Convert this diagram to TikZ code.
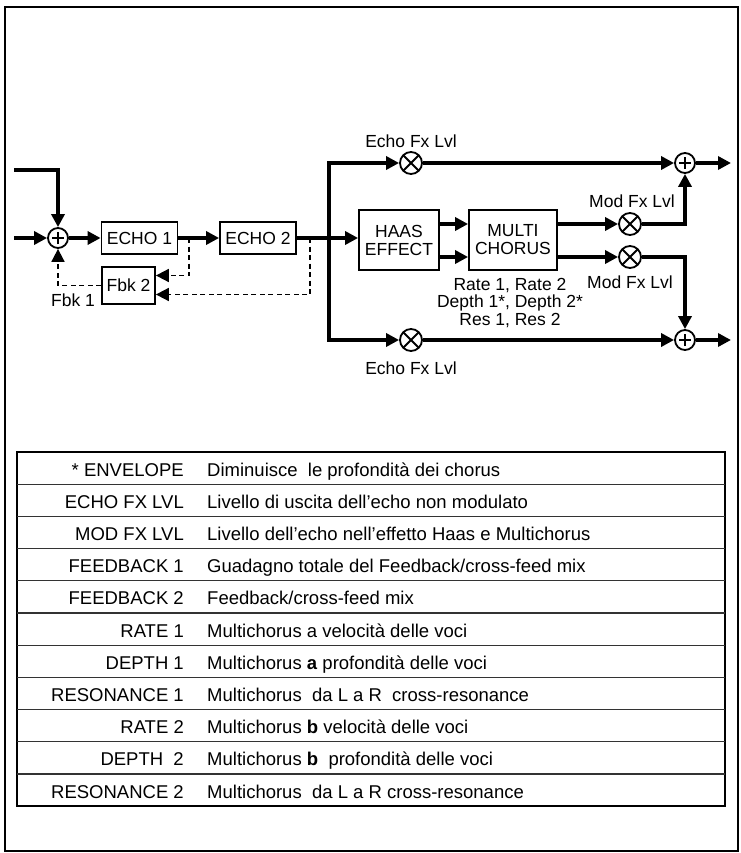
\documentclass[tikz,border=0pt]{standalone}
\usepackage{fontspec}
\setmainfont{Liberation Sans}
\usetikzlibrary{arrows.meta}
\newcommand{\diagfont}{\fontsize{17.5}{17.5}\selectfont}
\newcommand{\tabfont}{\fontsize{18.5}{20}\selectfont}
\tikzset{
  sigline/.style={line width=3.4pt, -{Triangle[length=13pt,width=13pt]}},
  fbline/.style={line width=1.8pt, dash pattern=on 5pt off 3.5pt, -{Triangle[length=13pt,width=13pt]}},
  blockbox/.style={draw, line width=1.8pt, inner sep=0pt, align=center, font=\diagfont},
  sumnode/.style={circle, draw, line width=1.8pt, minimum size=20pt, inner sep=0pt,
    path picture={\draw[line width=1.8pt]
      ([xshift=-6pt]path picture bounding box.center) -- ([xshift=6pt]path picture bounding box.center)
      ([yshift=-6pt]path picture bounding box.center) -- ([yshift=6pt]path picture bounding box.center);}},
  mulnode/.style={circle, draw, line width=1.8pt, minimum size=22pt, inner sep=0pt,
    path picture={\draw[line width=1.8pt]
      (path picture bounding box.north west) -- (path picture bounding box.south east)
      (path picture bounding box.north east) -- (path picture bounding box.south west);}},
  lbl/.style={font=\diagfont, inner sep=0pt}
}
\begin{document}
\begin{tikzpicture}[x=1pt, y=-1pt]
  \useasboundingbox (0,0) rectangle (740,853);
  \draw[line width=2.5pt] (5,7) rectangle (738,851);

  % ingressi e somma
  \coordinate (inA) at (14,238);
  \coordinate (inB) at (14,170);
  \node[sumnode] (sum1) at (58,238) {};

  % blocchi echo
  \node[blockbox, minimum width=76pt, minimum height=32pt] (echoA) at (139.5,238) {ECHO 1};
  \node[blockbox, minimum width=76pt, minimum height=32pt] (echoB) at (258,238) {ECHO 2};
  \node[blockbox, minimum width=53pt, minimum height=37pt] (fbkB) at (128.5,285.5) {Fbk 2};
  \node[lbl] (lblFbkA) at (73,300) {Fbk 1};
  \coordinate (tapA) at (189,238);
  \coordinate (tapB) at (310,238);
  \coordinate (split) at (329,238);

  % Haas e multichorus
  \node[blockbox, minimum width=80pt, minimum height=60pt, font=\fontsize{17.5}{18}\selectfont] (haas) at (399,240) {HAAS\\EFFECT};
  \node[blockbox, minimum width=88pt, minimum height=60pt, font=\fontsize{17.5}{18}\selectfont] (multi) at (513,240) {MULTI\\CHORUS};
  \node[lbl, align=center] (lblParams) at (510,303) {Rate 1, Rate 2\\Depth 1*, Depth 2*\\Res 1, Res 2};

  % livelli e somme d'uscita
  \node[mulnode] (mulTop) at (411,163) {};
  \node[mulnode] (mulBot) at (411,340) {};
  \node[mulnode] (modA) at (630,224) {};
  \node[mulnode] (modB) at (630,257) {};
  \node[sumnode] (sumTop) at (685,163) {};
  \node[sumnode] (sumBot) at (685,340) {};
  \coordinate (outTop) at (731,163);
  \coordinate (outBot) at (731,340);
  \node[lbl] (lblEchoTop) at (411,141.5) {Echo Fx Lvl};
  \node[lbl] (lblEchoBot) at (411,368) {Echo Fx Lvl};
  \node[lbl] (lblModA) at (632,201) {Mod Fx Lvl};
  \node[lbl] (lblModB) at (630,282) {Mod Fx Lvl};

  % segnale
  \draw[sigline] (inA) -- (sum1);
  \draw[sigline] (inB) -| (sum1);
  \draw[sigline] (sum1) -- (echoA);
  \draw[sigline] (echoA) -- (echoB);
  \draw[sigline] (echoB) -- (haas.west |- echoB);
  \draw[sigline] (split) |- (mulTop);
  \draw[sigline] (split) |- (mulBot);
  \draw[sigline] (haas.east |- modA) -- (multi.west |- modA);
  \draw[sigline] (haas.east |- modB) -- (multi.west |- modB);
  \draw[sigline] (multi.east |- modA) -- (modA);
  \draw[sigline] (multi.east |- modB) -- (modB);
  \draw[sigline] (modA) -| (sumTop);
  \draw[sigline] (modB) -| (sumBot);
  \draw[sigline] (mulTop) -- (sumTop);
  \draw[sigline] (mulBot) -- (sumBot);
  \draw[sigline] (sumTop) -- (outTop);
  \draw[sigline] (sumBot) -- (outBot);

  % feedback
  \draw[fbline] (tapA) |- ([yshift=10pt]fbkB.east);
  \draw[fbline] (tapB) |- ([yshift=-9pt]fbkB.east);
  \draw[fbline] (fbkB.west) -| (sum1);

  % tabella
  \draw[line width=2.5pt] (17,452) rectangle (725,806);
  \foreach \i in {1,...,10}
    \draw[line width=1.2pt, black!80] (17,{452+32.2*\i}) -- (725,{452+32.2*\i});
  \foreach \lab/\desc [count=\i from 0] in {
      {* ENVELOPE}/{Diminuisce~ le profondità dei chorus},
      {ECHO FX LVL}/{Livello di uscita dell'echo non modulato},
      {MOD FX LVL}/{Livello dell'echo nell'effetto Haas e Multichorus},
      {FEEDBACK 1}/{Guadagno totale del Feedback\slash cross-feed mix},
      {FEEDBACK 2}/{Feedback\slash cross-feed mix},
      {RATE 1}/{Multichorus a velocità delle voci},
      {DEPTH 1}/{Multichorus \textbf{a} profondità delle voci},
      {RESONANCE 1}/{Multichorus~ da L a R~ cross-resonance},
      {RATE 2}/{Multichorus \textbf{b} velocità delle voci},
      {DEPTH~ 2}/{Multichorus \textbf{b}~ profondità delle voci},
      {RESONANCE 2}/{Multichorus~ da L a R cross-resonance}} {
    \node[anchor=base east, font=\tabfont, inner sep=0pt] (tabLab\i) at (184,{476+32.2*\i}) {\lab};
    \node[anchor=base west, font=\tabfont, inner sep=0pt] (tabDesc\i) at (207,{476+32.2*\i}) {\desc};
  }
\end{tikzpicture}
\end{document}
